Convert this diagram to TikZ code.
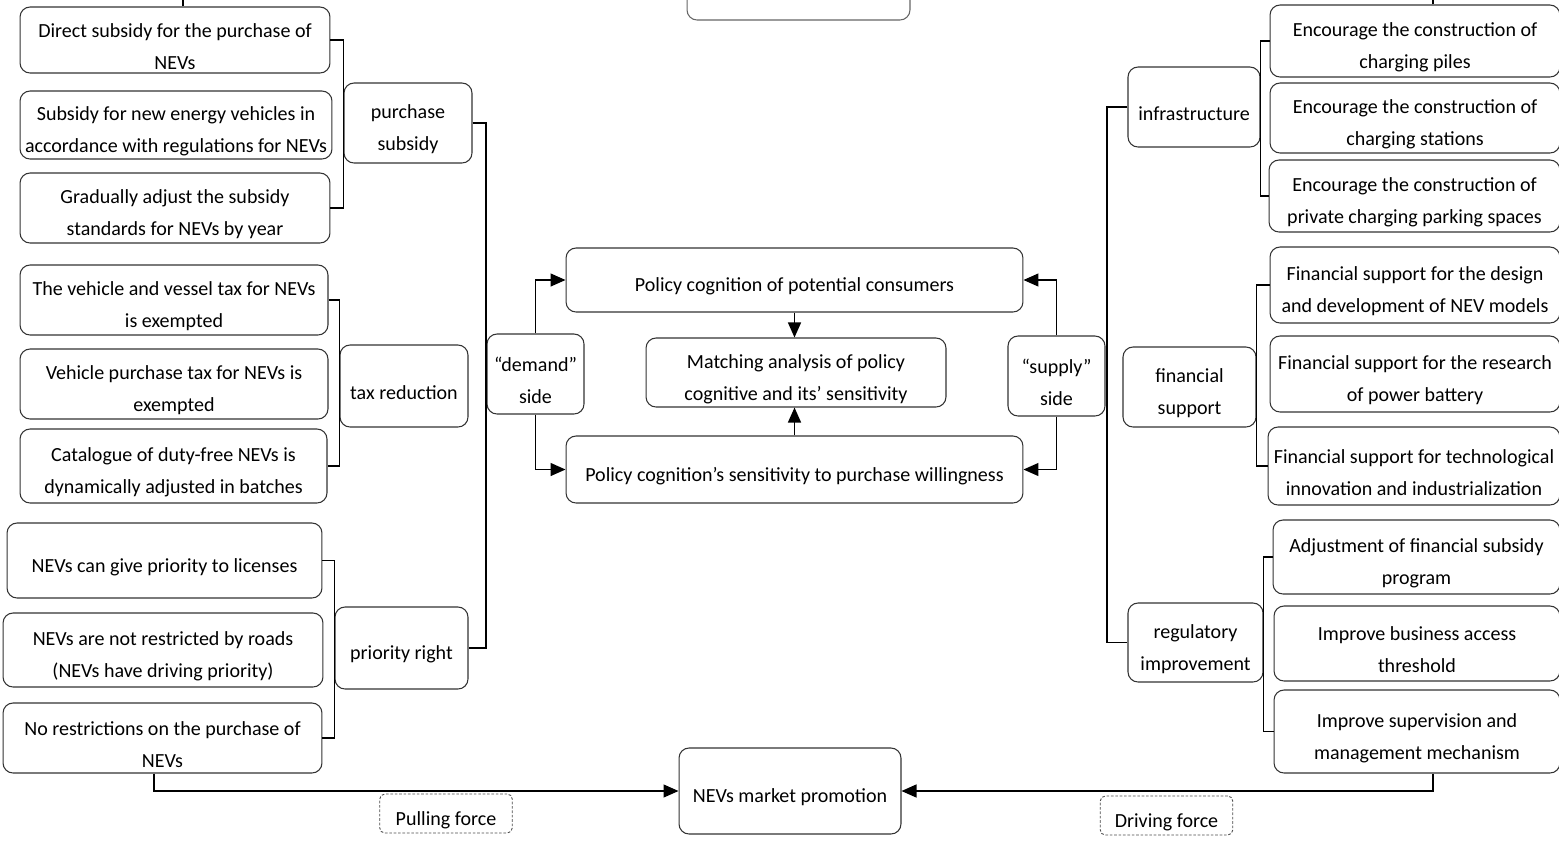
\documentclass[tikz,border=0pt]{standalone}
\usepackage{fontspec}
\setmainfont{Carlito}
\usetikzlibrary{arrows.meta}
\tikzstyle{riquadro} = [draw=black!80, line width=0.6pt, rounded corners=0.2cm, align=center, inner sep=0pt, font=\fontsize{11.4}{18.2}\selectfont, text height=0.54cm]
\tikzstyle{due} = [text height=1.18cm]
\tikzstyle{foglia} = [riquadro, due, minimum width=6.2cm, minimum height=1.4cm]
\tikzstyle{ramo} = [riquadro, due, minimum width=5.8cm, minimum height=1.46cm]
\tikzstyle{categoria} = [riquadro, minimum width=2.62cm, minimum height=1.6cm]
\tikzstyle{forza} = [draw=black!70, dash pattern=on 1.5pt off 1pt, line width=0.5pt, rounded corners=0.1cm, minimum width=2.65cm, minimum height=0.78cm, inner sep=0pt, font=\fontsize{11.4}{18.2}\selectfont, text height=0.54cm]
\tikzstyle{linea} = [line width=0.75pt]
\tikzstyle{freccia} = [line width=0.75pt, -{Triangle[length=0.3cm, width=0.26cm]}]

\begin{document}
\begin{tikzpicture}[x=0.02cm, y=-0.02cm]
\useasboundingbox (0,0) rectangle (1559,843);
\clip (0,0) rectangle (1559,843);

% left side: demand policies
\node (ps1) [foglia, minimum height=1.32cm] at (175,40) {Direct subsidy for the purchase of\\NEVs};
\node (ps2) [foglia, minimum width=6.24cm, minimum height=1.36cm] at (176,125) {Subsidy for new energy vehicles in\\accordance with regulations for NEVs};
\node (ps3) [foglia] at (175,208) {Gradually adjust the subsidy\\standards for NEVs by year};
\node (acquisto) [categoria, due, minimum width=2.56cm] at (408,123) {purchase\\subsidy};

\node (tr1) [foglia, minimum width=6.16cm] at (174,300) {The vehicle and vessel tax for NEVs\\is exempted};
\node (tr2) [foglia, minimum width=6.16cm] at (174,384) {Vehicle purchase tax for NEVs is\\exempted};
\node (tr3) [foglia, minimum width=6.14cm, minimum height=1.48cm] at (173.5,466) {Catalogue of duty-free NEVs is\\dynamically adjusted in batches};
\node (tasse) [categoria, minimum width=2.56cm, minimum height=1.64cm] at (404,386) {tax reduction};

\node (pr1) [foglia, text height=0.54cm, minimum width=6.3cm, minimum height=1.5cm] at (164.5,560.5) {NEVs can give priority to licenses};
\node (pr2) [foglia, minimum width=6.4cm, minimum height=1.48cm] at (163,650) {NEVs are not restricted by roads\\(NEVs have driving priority)};
\node (pr3) [foglia, minimum width=6.38cm] at (162.5,738) {No restrictions on the purchase of\\NEVs};
\node (priorita) [categoria, minimum width=2.66cm, minimum height=1.64cm] at (401.5,648) {priority right};

% right side: supply policies
\node (in1) [ramo, minimum height=1.44cm] at (1415,41) {Encourage the construction of\\charging piles};
\node (in2) [ramo, minimum height=1.4cm] at (1415,118) {Encourage the construction of\\charging stations};
\node (in3) [ramo, minimum width=5.82cm, minimum height=1.44cm] at (1414.5,196) {Encourage the construction of\\private charging parking spaces};
\node (infra) [categoria, minimum width=2.64cm] at (1194,107) {infrastructure};

\node (fs1) [ramo, minimum height=1.52cm] at (1415,285) {Financial support for the design\\and development of NEV models};
\node (fs2) [ramo, minimum height=1.52cm] at (1415,374) {Financial support for the research\\of power battery};
\node (fs3) [ramo, minimum width=5.84cm, minimum height=1.56cm] at (1414,466) {Financial support for technological\\innovation and industrialization};
\node (finanza) [categoria, due, minimum width=2.66cm] at (1189.5,387) {financial\\support};

\node (rg1) [ramo, minimum width=5.74cm, minimum height=1.48cm] at (1416.5,557) {Adjustment of financial subsidy\\program};
\node (rg2) [ramo, minimum width=5.72cm, minimum height=1.5cm] at (1417,643.5) {Improve business access\\threshold};
\node (rg3) [ramo, minimum width=5.72cm, minimum height=1.66cm] at (1417,731.5) {Improve supervision and\\management mechanism};
\node (norme) [categoria, due, minimum width=2.7cm, minimum height=1.58cm] at (1195.5,642.5) {regulatory\\improvement};

% middle
\node (vertice) [riquadro, draw=black!60, minimum width=4.46cm, minimum height=1.6cm] at (798.5,-20) {};
\node (cognizione) [riquadro, minimum width=9.14cm, minimum height=1.28cm] at (794.5,280) {Policy cognition of potential consumers};
\node (analisi) [riquadro, due, minimum width=6cm, minimum height=1.38cm] at (796,372.5) {Matching analysis of policy\\cognitive and its’ sensitivity};
\node (sensibilita) [riquadro, minimum width=9.14cm, minimum height=1.34cm] at (794.5,469.5) {Policy cognition’s sensitivity to purchase willingness};
\node (domanda) [riquadro, due, minimum width=1.94cm, minimum height=1.6cm] at (535.5,374) {“demand”\\side};
\node (offerta) [riquadro, due, minimum width=1.94cm, minimum height=1.6cm] at (1056.5,376) {“supply”\\side};
\node (mercato) [riquadro, minimum width=4.44cm, minimum height=1.72cm] at (790,791) {NEVs market promotion};

\node (trazione) [forza] at (446,813.5) {Pulling force};
\node (spinta) [forza] at (1166.5,815.5) {Driving force};

\coordinate (spinaS) at (486,0);
\coordinate (spinaD) at (1107,0);
\coordinate (xs) at (183,0);
\coordinate (xd) at (1433,0);
\coordinate (xb) at (154,0);

% brackets
\draw[linea] (ps1.east) -- (ps1.east -| acquisto.west) -- (ps3.east -| acquisto.west) -- (ps3.east);
\draw[linea] (tr1.east) -- (tr1.east -| tasse.west) -- (tr3.east -| tasse.west) -- (tr3.east);
\draw[linea] (pr1.east) -- (pr1.east -| priorita.west) -- (pr3.east -| priorita.west) -- (pr3.east);
\draw[linea] (in1.west) -- (in1.west -| infra.east) -- (in3.west -| infra.east) -- (in3.west);
\draw[linea] (fs1.west) -- (fs1.west -| finanza.east) -- (fs3.west -| finanza.east) -- (fs3.west);
\draw[linea] (rg1.west) -- (rg1.west -| norme.east) -- (rg3.west -| norme.east) -- (rg3.west);

\draw[linea] (acquisto.east) -- (acquisto.east -| spinaS) -- (priorita.east -| spinaS) -- (priorita.east);
\draw[linea] (infra.west) -- (infra.west -| spinaD) -- (norme.west -| spinaD) -- (norme.west);

\draw[linea] (ps1.north -| xs) -- ++(0,-20);
\draw[linea] (in1.north -| xd) -- ++(0,-20);

% arrows
\draw[freccia] (domanda.north) |- (cognizione.west);
\draw[freccia] (domanda.south) |- (sensibilita.west);
\draw[freccia] (offerta.north) |- (cognizione.east);
\draw[freccia] (offerta.south) |- (sensibilita.east);
\draw[freccia] (cognizione.south) -- (cognizione.south |- analisi.north);
\draw[freccia] (sensibilita.north) -- (sensibilita.north |- analisi.south);

\draw[freccia] (pr3.south -| xb) |- (mercato.west);
\draw[freccia] (rg3.south -| xd) |- (mercato.east);

\end{tikzpicture}
\end{document}
